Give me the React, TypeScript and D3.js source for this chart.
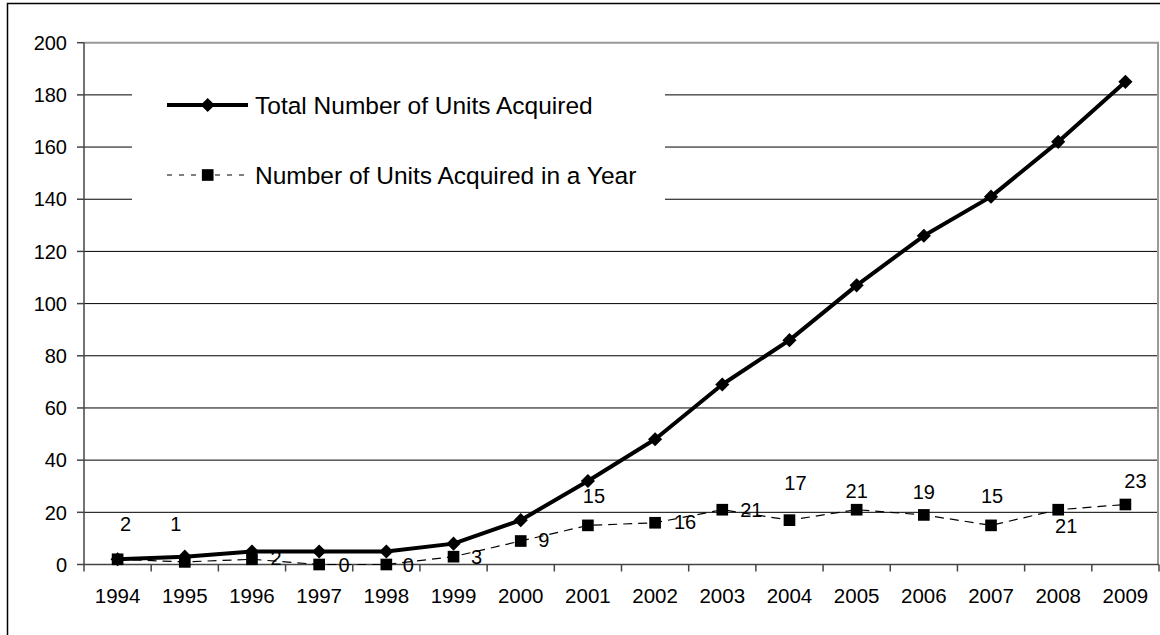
import * as d3 from "d3";

const years = [
  "1994", "1995", "1996", "1997", "1998", "1999", "2000", "2001",
  "2002", "2003", "2004", "2005", "2006", "2007", "2008", "2009",
];
const totalUnits = [2, 3, 5, 5, 5, 8, 17, 32, 48, 69, 86, 107, 126, 141, 162, 185];
const yearlyUnits = [2, 1, 2, 0, 0, 3, 9, 15, 16, 21, 17, 21, 19, 15, 21, 23];
const yTicks = [0, 20, 40, 60, 80, 100, 120, 140, 160, 180, 200];
const seriesNames = ["Total Number of Units Acquired", "Number of Units Acquired in a Year"];

// where each yearly data label sits relative to its marker (dx, dy)
const labelOffsets: [number, number][] = [
  [8, -35], [-9, -38], [24, -1], [25, 0], [22, 0], [23, 0], [23, -1], [6, -30],
  [30, -1], [29, 0], [6, -37], [0, -19], [0, -23], [1, -30], [8, 16], [10, -24],
];

const W = 1160;
const H = 635;
const plot = { left: 84, right: 1159, top: 42.7, bottom: 564.5 };
const font = "'Liberation Sans', Arial, sans-serif";

const App = () => {
  const x = d3.scaleBand().domain(years).range([plot.left, plot.right]);
  const y = d3.scaleLinear().domain([0, 200]).range([plot.bottom, plot.top]);
  const cx = (yr: string) => (x(yr) ?? 0) + x.bandwidth() / 2;

  const line = d3
    .line<number>()
    .x((_d, i) => cx(years[i]))
    .y((d) => y(d));

  const diamond = d3.symbol().type(d3.symbolSquare).size(100)() as string;
  const square = d3.symbol().type(d3.symbolSquare).size(136)() as string;

  const bounds = [...years.map((yr) => x(yr) ?? 0), plot.right];

  return (
    <svg
      width={W}
      height={H}
      style={{ position: "absolute", left: 0, top: 0, background: "#fff" }}
      fontFamily={font}
    >
      <rect x={7.5} y={3.5} width={W + 10} height={H + 10} fill="#fff" stroke="#000" strokeWidth={1.5} />

      {/* gridlines */}
      {yTicks
        .filter((t) => t > 0 && t < 200)
        .map((t) => (
          <line key={t} x1={plot.left} x2={plot.right} y1={y(t)} y2={y(t)} stroke="#000" strokeWidth={1} />
        ))}
      {/* plot area border */}
      <line x1={plot.left} x2={plot.right} y1={plot.top} y2={plot.top} stroke="#999" strokeWidth={2} />
      <line x1={plot.right - 1} x2={plot.right - 1} y1={plot.top} y2={plot.bottom} stroke="#999" strokeWidth={2} />

      {/* legend box hides the gridlines behind it */}
      <rect x={132} y={62} width={533} height={160} fill="#fff" />
      <line x1={167} x2={248} y1={105} y2={105} stroke="#000" strokeWidth={4} />
      <path d={diamond} transform="translate(207.7,105) rotate(45)" fill="#000" />
      <text x={255} y={105} dy="0.36em" fontSize={24.5}>{seriesNames[0]}</text>
      <line x1={167} x2={248} y1={175} y2={175} stroke="#000" strokeWidth={1} strokeDasharray="5,7" />
      <path d={square} transform="translate(207.7,175)" fill="#000" />
      <text x={255} y={175} dy="0.36em" fontSize={24.5}>{seriesNames[1]}</text>

      {/* y axis */}
      <line x1={plot.left} x2={plot.left} y1={plot.top} y2={plot.bottom} stroke="#444" strokeWidth={1.5} />
      {yTicks.map((t) => (
        <g key={t}>
          <line x1={plot.left - 7} x2={plot.left} y1={y(t)} y2={y(t)} stroke="#444" strokeWidth={1.5} />
          <text x={67} y={y(t)} dy="0.36em" textAnchor="end" fontSize={20}>{t}</text>
        </g>
      ))}

      {/* x axis */}
      <line x1={plot.left} x2={plot.right} y1={plot.bottom} y2={plot.bottom} stroke="#444" strokeWidth={1.5} />
      {bounds.map((b, i) => (
        <line key={i} x1={b} x2={b} y1={plot.bottom} y2={plot.bottom + 7} stroke="#444" strokeWidth={1.5} />
      ))}
      {years.map((yr) => (
        <text key={yr} x={cx(yr)} y={603} textAnchor="middle" fontSize={20.5}>{yr}</text>
      ))}

      {/* total series */}
      <path d={line(totalUnits) ?? ""} fill="none" stroke="#000" strokeWidth={4} strokeLinejoin="round" />
      {totalUnits.map((v, i) => (
        <path key={i} d={diamond} transform={`translate(${cx(years[i])},${y(v)}) rotate(45)`} fill="#000" />
      ))}
      {/* yearly series, drawn on top */}
      <path d={line(yearlyUnits) ?? ""} fill="none" stroke="#000" strokeWidth={1.2} strokeDasharray="9,6" />
      {yearlyUnits.map((v, i) => (
        <path key={i} d={square} transform={`translate(${cx(years[i])},${y(v)})`} fill="#000" />
      ))}
      {yearlyUnits.map((v, i) => (
        <text
          key={i}
          x={cx(years[i]) + labelOffsets[i][0]}
          y={y(v) + labelOffsets[i][1]}
          dy="0.36em"
          textAnchor="middle"
          fontSize={20}
        >
          {v}
        </text>
      ))}
    </svg>
  );
};

export default App;
